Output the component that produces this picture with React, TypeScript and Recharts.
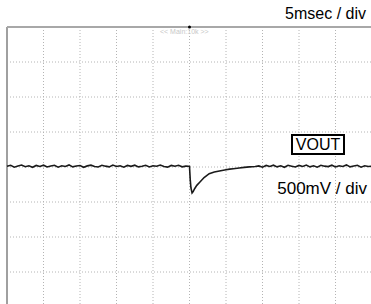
import { LineChart, Line, XAxis, YAxis, CartesianGrid, ReferenceLine, ReferenceDot } from 'recharts'

// time in ms (5 ms / div, 10 div), VOUT deviation in mV (500 mV / div, 8 div)
const timeMs = [
  -25, -24.5, -24, -23.5, -23, -22.5, -22, -21.5, -21, -20.5,
  -20, -19.5, -19, -18.5, -18, -17.5, -17, -16.5, -16, -15.5,
  -15, -14.5, -14, -13.5, -13, -12.5, -12, -11.5, -11, -10.5,
  -10, -9.5, -9, -8.5, -8, -7.5, -7, -6.5, -6, -5.5,
  -5, -4.5, -4, -3.5, -3, -2.5, -2, -1.5, -1, -0.5,
  -0.15, 0, 0.1, 0.2, 0.35, 0.5, 0.7, 1, 1.4, 2,
  2.7, 3.4, 4.1, 5, 5.5, 6, 6.8, 7.5, 8.2, 9,
  9.5, 10, 10.5, 11, 11.5, 12, 12.5, 13, 13.5, 14,
  14.5, 15, 15.5, 16, 16.5, 17, 17.5, 18, 18.5, 19,
  19.5, 20, 20.5, 21, 21.5, 22, 22.5, 23, 23.5, 24,
  24.5, 25,
]
const voutMv = [
  10, 24, -2, 14, 28, 4, 18, -4, 22, 8,
  26, 0, 14, 24, -2, 18, 8, 30, 2, 14,
  22, -4, 16, 26, 8, 0, 24, 12, 2, 28,
  8, 18, -2, 22, 10, 26, 2, 10, 24, 0,
  18, 10, 28, 6, -2, 22, 10, 24, 2, 12,
  10, 8, -180, -300, -370, -350, -310, -262, -218, -150,
  -95, -72, -56, -40, -30, -24, -14, -6, 2, 8,
  16, -2, 22, 8, 26, 2, 18, -4, 24, 12,
  0, 22, 8, 28, 2, 18, -2, 24, 12, 6,
  26, 0, 18, 8, 30, 2, 14, 24, -2, 18,
  8, 12,
]
const data = timeMs.map((t, i) => ({ t, v: voutMv[i] }))

const xTicks = [-20, -15, -10, -5, 0, 5, 10, 15, 20]
const yTicks = [-1500, -1000, -500, 0, 500, 1000, 1500]

const font = 'Arial, "Liberation Sans", sans-serif'

export default function App() {
  return (
    <div style={{ position: 'absolute', left: 0, top: 0, width: 371, height: 304, overflow: 'hidden', background: '#fff', fontFamily: font }}>
      <LineChart width={372} height={307} data={data} margin={{ top: 27, right: 0, bottom: 0, left: 7 }}>
        <XAxis dataKey="t" type="number" domain={[-25, 25]} ticks={xTicks} hide />
        <YAxis type="number" domain={[-2000, 2000]} ticks={yTicks} hide />
        <CartesianGrid stroke="#b4b4b4" strokeDasharray="1 2" />
        <ReferenceLine x={-25} stroke="#a0a0a0" strokeWidth={2} />
        <ReferenceLine y={2000} stroke="#a8a8a8" strokeWidth={2} />
        <ReferenceDot x={0} y={2000} r={1.5} fill="#000" stroke="none" />
        <Line dataKey="v" type="linear" stroke="#1a1a1a" strokeWidth={1.6} dot={false} isAnimationActive={false} />
      </LineChart>
      <div style={{ position: 'absolute', left: 160, top: 28, fontSize: 7, color: '#c8c8c8', whiteSpace: 'pre' }}>{'<< Main:10k >>'}</div>
      <div style={{ position: 'absolute', right: 5, top: 5, fontSize: 16, color: '#000', whiteSpace: 'pre' }}>5msec / div</div>
      <div style={{ position: 'absolute', left: 291, top: 134, width: 50, height: 17, border: '2px solid #000', background: '#fff', fontSize: 16, lineHeight: '17px', textAlign: 'center', color: '#000' }}>VOUT</div>
      <div style={{ position: 'absolute', right: 4, top: 179, fontSize: 17, color: '#000', whiteSpace: 'pre' }}>500mV / div</div>
    </div>
  )
}
